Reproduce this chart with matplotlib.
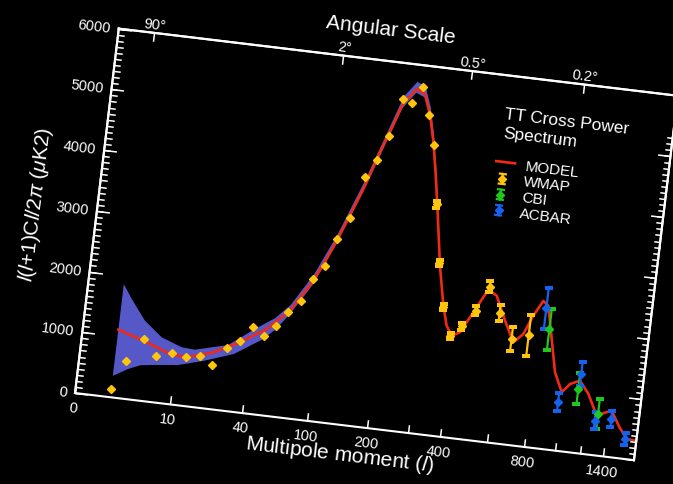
import numpy as np
import matplotlib
matplotlib.use("Agg")
import matplotlib.pyplot as plt
from matplotlib.transforms import Affine2D, Transform
import mpl_toolkits.axisartist.floating_axes as floating_axes
from mpl_toolkits.axisartist.grid_finder import FixedLocator, DictFormatter

plt.rcParams["font.family"] = ["Liberation Sans", "DejaVu Sans"]
plt.rcParams["mathtext.fontset"] = "custom"
plt.rcParams["mathtext.rm"] = "Liberation Sans"
plt.rcParams["mathtext.it"] = "Liberation Sans:italic"
plt.rcParams["mathtext.bf"] = "Liberation Sans:bold"

# ---------------- data ----------------
# best-fit model spectrum
model_l = [2, 4.3, 8.75, 12.5, 20.5, 32.9, 49, 65.7, 86.3, 99, 109.5, 123.5,
           140.1, 154.6, 172.6, 192.8, 218, 237.5, 255.4, 272, 289.5, 308.7,
           333, 358.4, 377, 399, 426, 468, 519, 561, 615.5, 669, 717, 761,
           810, 843, 889, 937, 1001, 1054, 1128, 1210, 1300, 1361, 1428,
           1515, 1600, 1686]
model_d = [1112, 982, 818, 798, 930, 1145, 1413, 1755, 2288, 2640, 2980, 3440,
           3934, 4400, 4850, 5330, 5602, 5537, 5222, 4795, 4259, 3613,
           2779, 2136, 1818, 1665, 1736, 2087, 2483, 2402, 2013, 1678, 1832,
           2149, 2407, 2340, 1807, 1272, 961, 1112, 1185, 985, 649, 707, 760,
           510, 329, 318]

# uncertainty band around the model
band_upper_l = [2, 2.7, 4.2, 6.8, 11.1, 14.4, 26.6, 41.6, 54, 65.7, 86.3,
                109.5, 140.1, 172.6, 192.8, 218, 237.5, 255.4, 272, 289.5,
                308.7, 333]
band_upper_d = [1863, 1637, 1310, 1073, 950, 937, 1078, 1390, 1603, 1850,
                2390, 3080, 4040, 4960, 5450, 5720, 5650, 5330, 4900, 4360,
                3700, 2830]
band_lower_l = [2, 3.1, 4.3, 6.25, 10.8, 17.2, 30.2, 46.7, 55.4, 65.7, 86.3,
                109.5, 140.1, 172.6, 192.8, 218, 237.5, 255.4, 272, 289.5,
                308.7, 333]
band_lower_d = [352, 494, 578, 611, 656, 769, 943, 1230, 1420, 1690, 2220,
                2920, 3870, 4780, 5260, 5540, 5480, 5160, 4730, 4200, 3560,
                2740]

# WMAP band powers (no visible error bar where err is nan)
wmap_l = [2, 2.8, 4.4, 6.2, 9.2, 12.3, 16, 20.7, 26.1, 32.7, 40.5, 47.8, 55.5,
          64.3, 74.9, 85.6, 99, 109.5, 123.5, 138.5, 154.6, 172.6, 191, 211,
          230.6, 254, 276, 302.7, 330, 359, 394, 430, 476, 524, 585, 658, 748]
wmap_d = [133, 611, 1011, 763, 836, 793, 849, 722, 1023, 1160, 1424, 1299,
          1475, 1726, 1939, 2315, 2545, 3016, 3377, 4067, 4371, 4785, 5407,
          5360, 5641, 5209, 4732, 3769, 2821, 2120, 1662, 1834, 2117, 2530,
          2127, 1733, 1822]
wmap_err = [np.nan] * 27 + [60, 50, 50, 50, 60, 70, 90, 130, 200, 340]

cbi_l = [867, 1122, 1310]
cbi_d = [1959, 1051, 679]
cbi_err = [340, 255, 250]

acbar_l = [833, 983, 1131, 1288, 1433, 1584]
acbar_d = [2291, 791, 1296, 564, 624, 326]
acbar_err = [345, 150, 195, 138, 124, 105]

x_ticks = [0, 10, 40, 100, 200, 300, 400, 600, 800, 1000, 1200, 1400]
x_tick_labels = {0: "0", 10: "10", 40: "40", 100: "100", 200: "200",
                 400: "400", 800: "800", 1400: "1400"}
angle_ticks = [2, 90, 360, 900]
angle_tick_labels = {2: "90\u00b0", 90: "2\u00b0", 360: "0.5\u00b0",
                     900: "0.2\u00b0"}
y_major = list(range(0, 6001, 1000))
y_minor = list(range(0, 6001, 100))
y_tick_labels = {v: str(v) for v in y_major}

# ---------------- axis geometry ----------------
L_MAX, D_MAX = 1700, 6000
TILT = -6.85                     # frame rotation in degrees
FRAME_W, FRAME_H = 563.0, 367.0  # frame size in pixels
ORIGIN = (75.0, 91.0)            # lower-left frame corner, figure pixels
W_PX, H_PX = 673, 485
# multipole axis: pixel position of reference multipoles
scale_l = [0, 2, 10, 40, 100, 200, 300, 400, 600, 800, 1000, 1200, 1400, 1700]
scale_pos = [0, 35.5, 95.3, 168.3, 233.8, 294.3, 335.6, 367.5, 415, 452.3,
             483.1, 508.6, 531.8, 563]


class MultipoleScale(Transform):
    """Maps multipole l to pixel distance along the frame (log-like)."""
    input_dims = output_dims = 2
    has_inverse = True

    def __init__(self, inverse=False):
        super().__init__()
        self._inverse = inverse
        self._log = np.log1p(np.asarray(scale_l, float))
        self._pos = np.asarray(scale_pos, float)

    def transform_non_affine(self, values):
        v = np.array(values, dtype=float)
        shape = v.shape
        v = v.reshape(-1, 2)
        if self._inverse:
            v[:, 0] = np.expm1(np.interp(v[:, 0], self._pos, self._log))
        else:
            v[:, 0] = np.interp(np.log1p(np.clip(v[:, 0], 0, None)),
                                self._log, self._pos)
        return v.reshape(shape)

    def inverted(self):
        return MultipoleScale(not self._inverse)


data_to_frame = (MultipoleScale()
                 + Affine2D().scale(1.0, FRAME_H / D_MAX).rotate_deg(TILT))

fig = plt.figure(figsize=(W_PX / 100, H_PX / 100), dpi=100, facecolor="black")


def make_axes(loc1, fmt1, loc2, fmt2):
    gh = floating_axes.GridHelperCurveLinear(
        data_to_frame, extremes=(0, L_MAX, 0, D_MAX),
        grid_locator1=FixedLocator(loc1), tick_formatter1=DictFormatter(fmt1),
        grid_locator2=FixedLocator(loc2), tick_formatter2=DictFormatter(fmt2))
    ax = fig.add_axes([0, 0, 1, 1], axes_class=floating_axes.FloatingAxes,
                      grid_helper=gh)
    ax.set_xlim(-ORIGIN[0], W_PX - ORIGIN[0])
    ax.set_ylim(-ORIGIN[1], H_PX - ORIGIN[1])
    return ax


def style_axis(artist, tick_size, labels, line_w=1.5):
    artist.line.set_edgecolor("white")
    artist.line.set_linewidth(line_w)
    artist.major_ticks.set_color("white")
    artist.major_ticks.set_ticksize(tick_size)
    artist.major_ticks.set_markeredgewidth(1.1)
    artist.major_ticklabels.set_color("white")
    artist.major_ticklabels.set_fontsize(10.5)
    artist.major_ticklabels.set_visible(labels)
    artist.label.set_visible(False)


# main frame: multipole ticks and major power ticks
ax = make_axes(x_ticks, x_tick_labels, y_major, y_tick_labels)
ax.patch.set_facecolor("black")
style_axis(ax.axis["left"], 9, True)
style_axis(ax.axis["bottom"], 6, True)
style_axis(ax.axis["right"], 9, False)
style_axis(ax.axis["top"], 0, False)
ax.axis["top"].major_ticks.set_visible(False)
ax.axis["bottom"].major_ticklabels.set_pad(6)
ax.axis["left"].major_ticklabels.set_pad(6)

# overlay frame: angular scale ticks and minor power ticks
ax2 = make_axes(angle_ticks, angle_tick_labels, y_minor, {})
ax2.patch.set_visible(False)
style_axis(ax2.axis["left"], 4.5, False)
style_axis(ax2.axis["right"], 4.5, False)
style_axis(ax2.axis["top"], 6, True)
ax2.axis["bottom"].set_visible(False)

# data drawn in multipole / power coordinates
aux = ax.get_aux_axes(data_to_frame)
aux.patch = ax.patch
ax.patch.zorder = 0.9

BAND = "#5558c6"
RED = "#f02a14"
YEL = "#ffc40c"
GRN = "#1ec81e"
BLU = "#1462ee"

aux.fill(np.concatenate([band_upper_l, band_lower_l[::-1]]),
         np.concatenate([band_upper_d, band_lower_d[::-1]]),
         color=BAND, lw=0, zorder=1)
aux.plot(model_l, model_d, color=RED, lw=1.9, zorder=2,
         solid_joinstyle="round")
eb = dict(fmt="D", ms=4.3, elinewidth=1.6, capsize=3, capthick=1.6, zorder=3)
aux.errorbar(wmap_l, wmap_d, yerr=wmap_err, color=YEL, **eb)
aux.errorbar(cbi_l, cbi_d, yerr=cbi_err, color=GRN, **eb)
aux.errorbar(acbar_l, acbar_d, yerr=acbar_err, color=BLU, **eb)

# titles and legend, laid out in the tilted frame (pixel units)
frame = Affine2D().rotate_deg(TILT) + ax.transData
ax.text(270.4, -29.0, r"Multipole moment ($\mathit{l}$)", fontsize=15,
        color="white", rotation=TILT, rotation_mode="anchor",
        ha="center", va="center", transform=frame)
ax.text(270.3, 399.0, "Angular Scale", fontsize=15,
        color="white", rotation=TILT, rotation_mode="anchor",
        ha="center", va="center", transform=frame)
ax.text(-61.7, 183.0,
        r"$\mathit{l}$($\mathit{l}$+1)C$\mathit{l}$/2$\pi$ ($\mu$K2)",
        fontsize=15, color="white", rotation=90 + TILT,
        rotation_mode="anchor", ha="center", va="center", transform=frame)

txt = dict(color="white", rotation=TILT, rotation_mode="anchor",
           ha="left", va="center", transform=frame)
ax.text(393.6, 328.3, "TT Cross Power", fontsize=12.5, **txt)
ax.text(393.6, 309.9, "Spectrum", fontsize=12.5, **txt)

ax.plot([390.5, 409.5], [280.5, 280.5], color=RED, lw=1.9, transform=frame)
legend_rows = [("WMAP", YEL, 263.5), ("CBI", GRN, 247.8), ("ACBAR", BLU, 232.0)]
for name, col, t in legend_rows:
    s = 398.7
    ax.plot([s, s], [t - 5, t + 5], color=col, lw=1.6, transform=frame)
    ax.plot([s - 3, s + 3], [t + 5, t + 5], color=col, lw=1.6, transform=frame)
    ax.plot([s - 3, s + 3], [t - 5, t - 5], color=col, lw=1.6, transform=frame)
    ax.plot([s], [t], "D", ms=4.3, color=col, transform=frame)
ax.text(420, 279.5, "MODEL", fontsize=11, **txt)
for name, col, t in legend_rows:
    ax.text(420, t, name, fontsize=11, **txt)

fig.savefig("out.png", dpi=100, facecolor="black")
